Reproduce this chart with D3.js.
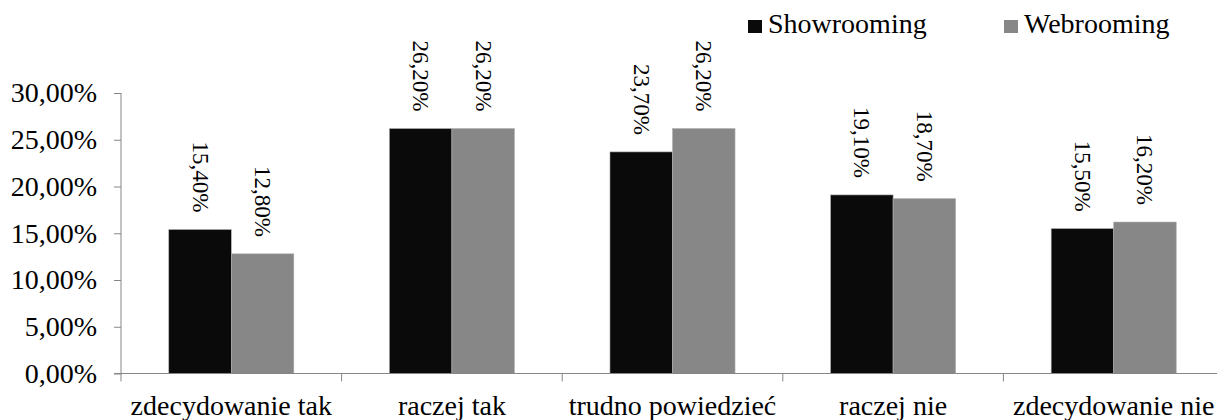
<!DOCTYPE html>
<html>
<head>
<meta charset="utf-8">
<script src="https://cdn.jsdelivr.net/npm/d3@7"></script>
</head>
<body style="margin:0; background:#fff">
<svg id="chart" width="1217" height="420"></svg>
<script>
const categories = ["zdecydowanie tak", "raczej tak", "trudno powiedzieć", "raczej nie", "zdecydowanie nie"];
const seriesNames = ["Showrooming", "Webrooming"];
const showrooming = [15.4, 26.2, 23.7, 19.1, 15.5];
const webrooming = [12.8, 26.2, 26.2, 18.7, 16.2];
const yTicks = [0, 5, 10, 15, 20, 25, 30];

const colors = ["#0a0a0a", "#878787"];
const axisColor = "#868686";
const serif = "Liberation Serif";

const svg = d3.select("#chart").style("display", "block");

// plot area (the last band runs slightly past the right edge, as in the original)
const plotLeft = 121, plotRight = 1224, plotTop = 93, plotBottom = 373.5;

const x0 = d3.scaleBand()
    .domain(categories)
    .range([plotLeft, plotRight])
    .paddingInner(0.433)
    .paddingOuter(0.2165);

const x1 = d3.scaleBand()
    .domain(seriesNames)
    .range([0, x0.bandwidth()])
    .padding(0);

const y = d3.scaleLinear()
    .domain([0, 30])
    .range([plotBottom, plotTop]);

const fmt = v => d3.format(".2f")(v).replace(".", ",") + "%";

const rows = categories.map((c, i) => ({
    cat: c,
    values: [
        { name: seriesNames[0], value: showrooming[i] },
        { name: seriesNames[1], value: webrooming[i] }
    ]
}));

// y axis
const yAxis = svg.append("g")
    .attr("transform", `translate(${plotLeft},0)`)
    .call(d3.axisLeft(y).tickValues(yTicks).tickSize(7).tickPadding(17).tickFormat(fmt));
yAxis.attr("font-family", null).attr("font-size", null);
yAxis.select(".domain").attr("stroke", axisColor).attr("d", `M0,${plotTop}V${plotBottom}`);
yAxis.selectAll(".tick line").attr("stroke", axisColor);
yAxis.selectAll(".tick text")
    .attr("fill", "#000")
    .style("font-size", "28px")
    .style("font-family", serif);

// bars
const groups = svg.append("g")
    .selectAll("g")
    .data(rows)
    .enter().append("g")
    .attr("transform", d => `translate(${x0(d.cat)},0)`);

groups.selectAll("rect")
    .data(d => d.values)
    .enter().append("rect")
    .attr("x", d => x1(d.name))
    .attr("y", d => y(d.value))
    .attr("width", x1.bandwidth())
    .attr("height", d => y(0) - y(d.value))
    .attr("fill", (d, i) => colors[i])
    .attr("stroke", "#b0b0b0")
    .attr("stroke-width", 0.6);

// rotated value labels
groups.selectAll("text")
    .data(d => d.values)
    .enter().append("text")
    .attr("transform", d => `translate(${x1(d.name) + x1.bandwidth() / 2},${y(d.value) - 17}) rotate(90)`)
    .attr("text-anchor", "end")
    .attr("dominant-baseline", "central")
    .style("font-family", serif)
    .style("font-size", "23px")
    .attr("fill", "#000")
    .text(d => fmt(d.value));

// x axis
const step = x0.step();
svg.append("line")
    .attr("x1", plotLeft - 7).attr("x2", 1217)
    .attr("y1", plotBottom).attr("y2", plotBottom)
    .attr("stroke", axisColor);

svg.append("g")
    .selectAll("line")
    .data(d3.range(categories.length + 1))
    .enter().append("line")
    .attr("x1", i => plotLeft + i * step)
    .attr("x2", i => plotLeft + i * step)
    .attr("y1", plotBottom)
    .attr("y2", plotBottom + 8)
    .attr("stroke", axisColor);

svg.append("g")
    .selectAll("text")
    .data(categories)
    .enter().append("text")
    .attr("x", d => x0(d) + x0.bandwidth() / 2)
    .attr("y", 415)
    .attr("text-anchor", "middle")
    .style("font-family", serif)
    .style("font-size", "28px")
    .attr("fill", "#000")
    .text(d => d);

// legend
const legendX = [748, 1004];
const legend = svg.append("g")
    .selectAll("g")
    .data(seriesNames)
    .enter().append("g")
    .attr("transform", (d, i) => `translate(${legendX[i]},0)`);

legend.append("rect")
    .attr("x", 0).attr("y", 20)
    .attr("width", 14).attr("height", 13)
    .attr("fill", (d, i) => colors[i]);

legend.append("text")
    .attr("x", 20).attr("y", 33)
    .style("font-family", serif)
    .style("font-size", "28px")
    .attr("fill", "#000")
    .text(d => d);
</script>
</body>
</html>
